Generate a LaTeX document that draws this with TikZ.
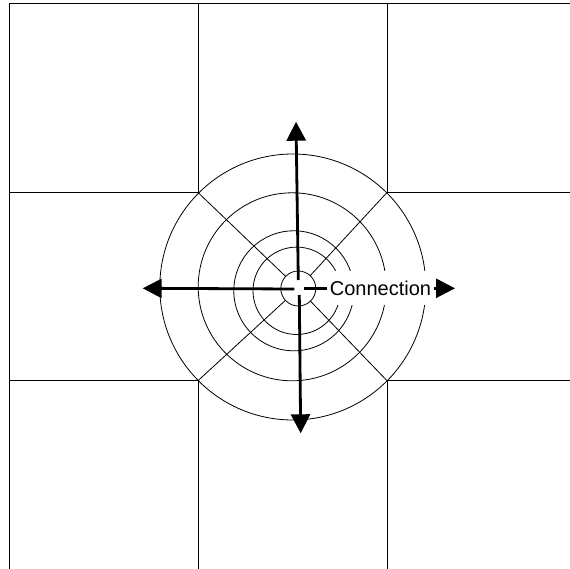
\documentclass[tikz,border=0pt]{standalone}
\usepackage{fontspec}
\setmainfont{Liberation Sans}
\usetikzlibrary{arrows.meta,calc}
\begin{document}
\begin{tikzpicture}[x=1pt,y=-1pt,
  gridline/.style={line width=0.8pt,draw=black},
  ring/.style={line width=0.8pt,draw=black},
  bigarrow/.style={line width=2.8pt,-{Triangle[length=19pt,width=19pt]}},
  lbl/.style={fill=white,inner xsep=3pt,inner ysep=0pt,minimum height=34pt,font=\fontsize{20}{24}\selectfont}]
\useasboundingbox (0,0) rectangle (570,569);
% grid corners
\coordinate (tl) at (198,192.5);
\coordinate (tr) at (387,192.5);
\coordinate (bl) at (198,380.7);
\coordinate (br) at (387,380.7);
% outer grid
\draw[gridline] (570,3.6) -- (9,3.6) -- (9,569);
\draw[gridline] (198,3.6) -- (tl) -- (9,192.5);
\draw[gridline] (387,3.6) -- (tr) -- (570,192.5);
\draw[gridline] (9,380.7) -- (bl) -- (198,569);
\draw[gridline] (570,380.7) -- (br) -- (387,569);
% rings
\coordinate (c5) at (298.3,288.5);
\draw[ring] (292.8,287) circle[radius=133];
\draw[ring] (292.2,286.8) circle[radius=94];
\draw[ring] (293.8,290.8) circle[radius=60];
\draw[ring] (296.7,290.8) circle[radius=43.7];
\draw[ring] (c5) circle[radius=17.5];
% diagonals
\draw[gridline] (tl) -- ($(c5)!17.5pt!(tl)$);
\draw[gridline] (tr) -- ($(c5)!17.5pt!(tr)$);
\draw[gridline] (bl) -- ($(c5)!17.5pt!(bl)$);
\draw[gridline] (br) -- ($(c5)!17.5pt!(br)$);
% arrows
\coordinate (us) at (298.3,280);
\coordinate (ue) at (296,121.7);
\coordinate (ds) at (299.3,295);
\coordinate (de) at (300.7,433.3);
\coordinate (ls) at (294.3,289);
\coordinate (le) at (142.7,288.3);
\coordinate (rs) at (304,288.3);
\coordinate (re) at (455,288.3);
\draw[bigarrow] (us) -- (ue);
\draw[bigarrow] (ds) -- (de);
\draw[bigarrow] (ls) -- (le);
\draw[bigarrow] (rs) -- (re);
\node[lbl] (conn) at (380.5,288.3) {Connection};
\end{tikzpicture}
\end{document}
